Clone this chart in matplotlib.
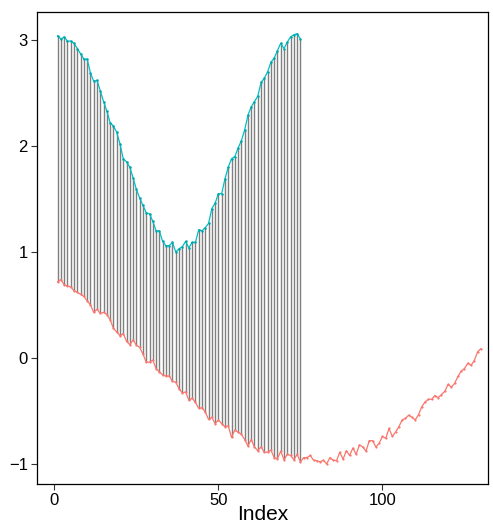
import numpy as np
import matplotlib.pyplot as plt

plt.rcParams['font.family'] = ['Liberation Sans', 'DejaVu Sans']

# series
red_vals = [
    0.72, 0.74, 0.69, 0.68, 0.67, 0.635, 0.62, 0.60, 0.58, 0.54,
    0.50, 0.43, 0.46, 0.42, 0.43, 0.41, 0.36, 0.28, 0.245, 0.21,
    0.23, 0.157, 0.125, 0.17, 0.12, 0.10, 0.038, -0.04, -0.04, -0.02,
    -0.10, -0.13, -0.16, -0.17, -0.17, -0.22, -0.23, -0.29, -0.33, -0.32,
    -0.40, -0.38, -0.42, -0.475, -0.47, -0.51, -0.58, -0.56, -0.62, -0.585,
    -0.62, -0.65, -0.64, -0.75, -0.68, -0.70, -0.72, -0.77, -0.83, -0.77,
    -0.84, -0.875, -0.84, -0.89, -0.89, -0.87, -0.94, -0.95, -0.88, -0.96,
    -0.91, -0.92, -0.96, -0.91, -0.98, -0.94, -0.94, -0.92, -0.965, -0.97,
    -0.98, -0.965, -1.00, -0.94, -0.965, -0.97, -0.89, -0.955, -0.875, -0.92,
    -0.85, -0.91, -0.82, -0.84, -0.88, -0.78, -0.78, -0.84, -0.805, -0.74,
    -0.76, -0.665, -0.74, -0.70, -0.65, -0.585, -0.57, -0.54, -0.56, -0.585,
    -0.535, -0.46, -0.415, -0.39, -0.39, -0.355, -0.375, -0.345, -0.315, -0.25,
    -0.275, -0.24, -0.175, -0.125, -0.10, -0.05, -0.07, -0.025, 0.057, 0.088,
]
teal_vals = [
    3.04, 3.01, 3.03, 2.99, 2.99, 2.97, 2.92, 2.87, 2.82, 2.82,
    2.69, 2.61, 2.62, 2.52, 2.42, 2.33, 2.22, 2.19, 2.13, 2.02,
    1.88, 1.85, 1.80, 1.70, 1.59, 1.51, 1.44, 1.37, 1.36, 1.29,
    1.20, 1.20, 1.10, 1.06, 1.06, 1.09, 1.00, 1.03, 1.05, 1.10,
    1.04, 1.09, 1.09, 1.21, 1.20, 1.23, 1.27, 1.41, 1.46, 1.55,
    1.55, 1.69, 1.80, 1.88, 1.90, 1.98, 2.05, 2.15, 2.29, 2.37,
    2.42, 2.47, 2.60, 2.64, 2.70, 2.79, 2.83, 2.90, 2.97, 2.92,
    2.98, 3.03, 3.05, 3.06, 3.01,
]
x_ticks = [0, 50, 100]
y_ticks = [-1, 0, 1, 2, 3]

red_x = np.arange(1, len(red_vals) + 1)
teal_x = np.arange(1, len(teal_vals) + 1)
red = np.array(red_vals)
teal = np.array(teal_vals)
n = len(teal)

fig = plt.figure(figsize=(4.93, 5.25), dpi=100)
ax = fig.add_axes([0.075, 0.078, 0.915, 0.899])

# connecting segments
ax.vlines(teal_x, red[:n], teal, color='#7f7f7f', linewidth=1.0, zorder=1)

ax.plot(red_x, red, color='#F8766D', linewidth=0.9, marker='o', markersize=1.6,
        markeredgewidth=0, zorder=2)
ax.plot(teal_x, teal, color='#00BFC4', linewidth=0.9, marker='o', markersize=1.8,
        markerfacecolor='#00A5AA', markeredgewidth=0, zorder=3)

ax.set_xlim(-5.3, 132.2)
ax.set_ylim(-1.19, 3.264)
ax.set_xticks(x_ticks)
ax.set_yticks(y_ticks)
ax.tick_params(labelsize=12, length=4, width=0.8, color='#333333', labelcolor='black', pad=2.5)
ax.set_xlabel('Index', fontsize=15, labelpad=-2)
for s in ax.spines.values():
    s.set_linewidth(0.9)
    s.set_color('black')

fig.savefig('out.png', dpi=100)
